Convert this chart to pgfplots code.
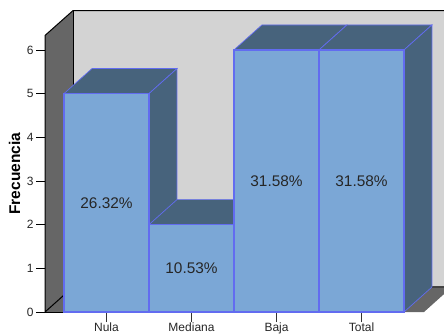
\documentclass[border=0pt]{standalone}
\usepackage{pgfplots}
\pgfplotsset{compat=1.18}
\usepackage{fontspec}
\setmainfont{Liberation Sans}
\definecolor{wallc}{RGB}{102,102,102}
\definecolor{backc}{RGB}{211,211,211}
\definecolor{frontc}{RGB}{123,167,214}
\definecolor{sidec}{RGB}{71,99,124}
\definecolor{edgec}{RGB}{98,108,240}
\begin{document}
\begin{tikzpicture}[x=1pt,y=1pt]
\path[use as bounding box] (0,0) rectangle (444,335);
\begin{axis}[
  at={(45pt,23pt)}, anchor=south west,
  scale only axis, width=379pt, height=276.5pt,
  xmin=-0.7235, xmax=3.735, ymin=0, ymax=6.33,
  clip=false,
  axis x line*=bottom, axis y line*=left,
  x axis line style={draw=none,-},
  y axis line style={draw=none,-},
  xtick={0,1,2,3},
  xticklabels={Nula,Mediana,Baja,Total},
  ytick={0,1,2,3,4,5,6},
  tick align=outside,
  tick style={black,line width=0.8pt},
  major tick length=9pt,
  x tick style={yshift=-1pt,black!80,line width=0.8pt},
  /pgf/number format/assume math mode=true,
  tick label style={font=\fontsize{12}{13}\selectfont, color=black!85},
  yticklabel style={xshift=1pt},
  xticklabel style={font=\fontsize{12}{13}\selectfont,yshift=1.5pt},
  ylabel={Frecuencia},
  ylabel style={at={(axis description cs:-0.08,0.5)},anchor=center,font=\fontsize{15.5}{17}\bfseries\selectfont},
]
% walls and floor
\addplot[fill=backc,draw=none] coordinates {(-0.394,0.5725)(3.97,0.5725)(3.97,6.9)(-0.394,6.9)} --cycle;
\addplot[fill=wallc,draw=none] coordinates {(-0.7235,0)(-0.394,0.5725)(-0.394,6.9)(-0.7235,6.33)} --cycle;
\addplot[fill=wallc,draw=none] coordinates {(-0.7235,0)(3.735,0)(3.97,0.41)(3.97,0.5725)(-0.394,0.5725)} --cycle;
\addplot[black,line width=1pt] coordinates {(3.97,0.5725)(-0.394,0.5725)(-0.7235,0)(-0.7235,6.33)(-0.394,6.9)(3.97,6.9)};
\addplot[black,line width=1pt] coordinates {(-0.394,0.5725)(-0.394,6.9)};
\addplot[black,line width=0.8pt] coordinates {(-0.7235,0)(-0.5,0)};
% top and side faces
\addplot[fill=sidec,draw=edgec,line width=0.7pt] coordinates {(-0.5,5)(-0.171,5.5725)(0.829,5.5725)(0.5,5)} --cycle;
\addplot[fill=sidec,draw=edgec,line width=0.7pt] coordinates {(0.5,0)(0.829,0.5725)(0.829,5.5725)(0.5,5)} --cycle;
\addplot[fill=sidec,draw=edgec,line width=0.7pt] coordinates {(0.5,2)(0.829,2.5725)(1.829,2.5725)(1.5,2)} --cycle;
\addplot[fill=sidec,draw=edgec,line width=0.7pt] coordinates {(1.5,0)(1.829,0.5725)(1.829,2.5725)(1.5,2)} --cycle;
\addplot[fill=sidec,draw=edgec,line width=0.7pt] coordinates {(1.5,6)(1.829,6.5725)(2.829,6.5725)(2.5,6)} --cycle;
\addplot[fill=sidec,draw=edgec,line width=0.7pt] coordinates {(2.5,6)(2.829,6.5725)(3.829,6.5725)(3.5,6)} --cycle;
\addplot[fill=sidec,draw=edgec,line width=0.7pt] coordinates {(3.5,0)(3.829,0.5725)(3.829,6.5725)(3.5,6)} --cycle;
% front faces
\addplot[ybar,bar width=1,bar shift=0pt,fill=frontc,draw=edgec,line width=1.4pt] coordinates {(0,5)(1,2)(2,6)(3,6)};
% value labels
\addplot[draw=none,mark=none,nodes near coords,point meta=explicit symbolic,
  nodes near coords style={anchor=center,text=black!85,font=\fontsize{15.4}{17}\selectfont}]
  table[meta=label]{
x y label
0 2.5 26.32\%
1 1 10.53\%
2 3 31.58\%
3 3 31.58\%
};
\end{axis}
\end{tikzpicture}
\end{document}
